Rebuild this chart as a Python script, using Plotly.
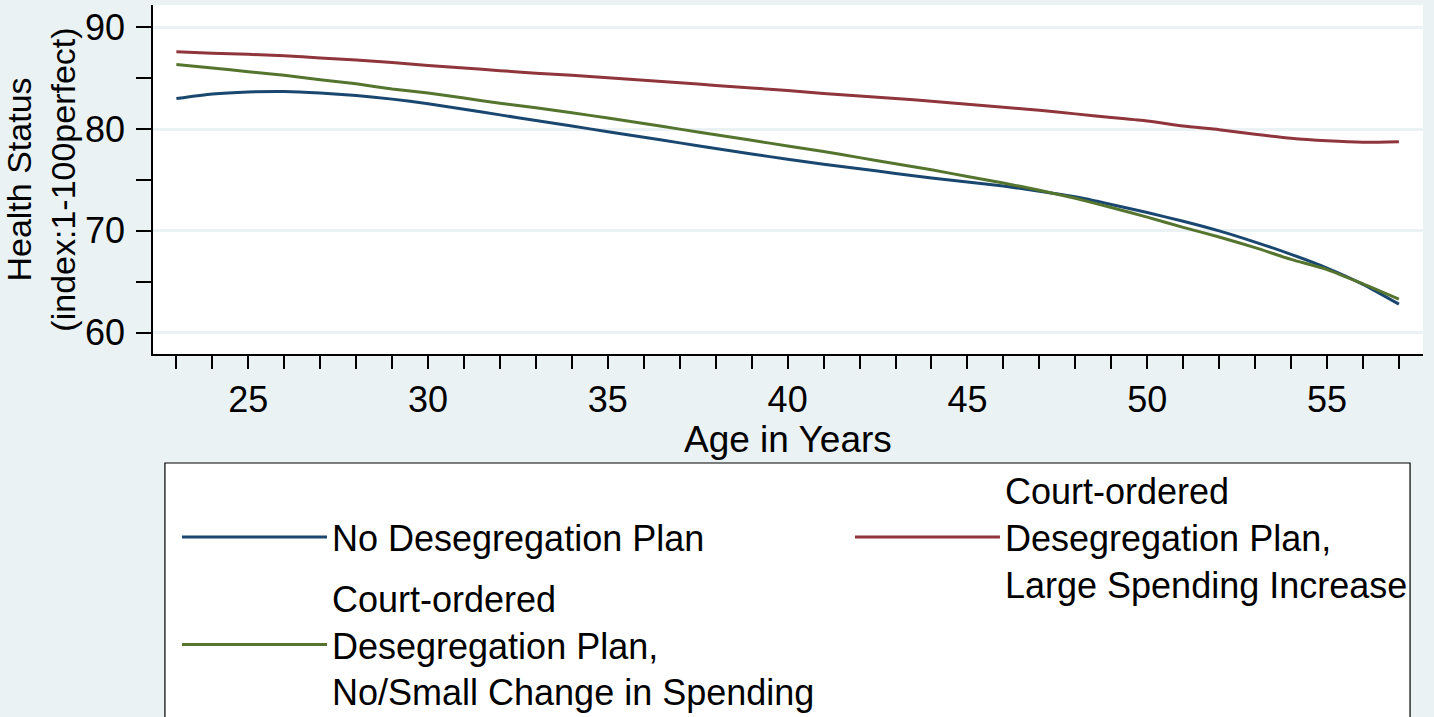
import plotly.graph_objects as go

ages = list(range(23, 58))

no_plan = [83.0, 83.45, 83.65, 83.7, 83.55, 83.3, 82.95, 82.5, 81.95, 81.4,
           80.85, 80.3, 79.75, 79.2, 78.65, 78.1, 77.55, 77.05, 76.55, 76.1,
           75.65, 75.2, 74.8, 74.4, 73.9, 73.35, 72.6, 71.8, 70.95, 70.0,
           68.9, 67.7, 66.35, 64.75, 62.8]

large_increase = [87.6, 87.45, 87.35, 87.2, 87.0, 86.8, 86.55, 86.25, 86.0, 85.75,
                  85.5, 85.3, 85.05, 84.8, 84.55, 84.3, 84.05, 83.8, 83.5, 83.25,
                  83.0, 82.75, 82.45, 82.15, 81.85, 81.5, 81.15, 80.8, 80.3, 79.95,
                  79.5, 79.1, 78.85, 78.7, 78.75]

small_change = [86.35, 86.0, 85.65, 85.3, 84.85, 84.45, 83.95, 83.55, 83.05, 82.55,
                82.1, 81.6, 81.1, 80.55, 80.0, 79.45, 78.9, 78.35, 77.8, 77.2,
                76.6, 76.0, 75.35, 74.7, 74.0, 73.2, 72.3, 71.35, 70.35, 69.4,
                68.35, 67.2, 66.2, 64.8, 63.3]

series_names = [
    "No Desegregation Plan",
    "Court-ordered<br>Desegregation Plan,<br>Large Spending Increase",
    "Court-ordered<br>Desegregation Plan,<br>No/Small Change in Spending",
]
series_colors = ["#1A476F", "#90353B", "#55752F"]
series_legends = ["legend", "legend2", "legend"]
series_groups = ["g1", "g2", "g3"]

x_major = [25, 30, 35, 40, 45, 50, 55]
y_major = [60, 70, 80, 90]
y_minor = [65, 75, 85]

x_title = "Age in Years"
y_title = "Health Status<br>(index:1-100perfect)"

FONT = "Liberation Sans, Arial, sans-serif"
BG = "#EAF2F3"
LEG_FONT = 36

fig = go.Figure()
for name, vals, col, leg, grp in zip(series_names,
                                     [no_plan, large_increase, small_change],
                                     series_colors, series_legends, series_groups):
    fig.add_trace(go.Scatter(x=ages, y=vals, mode="lines", name=name,
                             legend=leg, legendgroup=grp,
                             line=dict(color=col, width=3, shape="spline", smoothing=0.6)))

legend_common = dict(
    orientation="v", xanchor="left", yanchor="top",
    bgcolor="rgba(0,0,0,0)", borderwidth=0,
    font=dict(family=FONT, size=LEG_FONT, color="black"),
    itemwidth=145, traceorder="grouped", tracegroupgap=11,
)

fig.update_layout(
    width=1434, height=717,
    margin=dict(l=153, r=11, t=5, b=363, autoexpand=False),
    paper_bgcolor=BG, plot_bgcolor="white",
    font=dict(family=FONT, color="black", size=36),
    showlegend=True,
    legend=dict(x=0.0189, y=-0.4384, **legend_common),
    legend2=dict(x=0.5488, y=-0.3046, **legend_common),
    shapes=[dict(type="rect", xref="paper", yref="paper",
                 x0=0.0094, x1=0.9898, y0=-1.08, y1=-0.3123,
                 fillcolor="white", line=dict(color="black", width=1.2),
                 layer="below")],
    annotations=[dict(text=x_title, xref="paper", yref="paper", x=0.5, y=-0.2464,
                      xanchor="center", yanchor="middle", showarrow=False,
                      font=dict(family=FONT, size=37, color="black"))],
)

fig.update_xaxes(
    range=[22.35, 57.67], tickmode="array", tickvals=x_major,
    ticks="outside", ticklen=13, tickwidth=1.5, tickcolor="black",
    showline=True, linecolor="black", linewidth=1.5, showgrid=False, zeroline=False,
    tickfont=dict(size=36), automargin=False,
    minor=dict(tickmode="array", tickvals=ages, ticks="outside", ticklen=13,
               tickwidth=1.5, tickcolor="black", showgrid=False),
)
fig.update_yaxes(
    range=[57.9, 92.2], tickmode="array", tickvals=y_major,
    ticks="outside", ticklen=15, tickwidth=1.5, tickcolor="black",
    showline=True, linecolor="black", linewidth=1.5,
    showgrid=True, gridcolor=BG, gridwidth=3, zeroline=False,
    tickfont=dict(size=36), ticklabelstandoff=4, automargin=False,
    minor=dict(tickmode="array", tickvals=y_minor, ticks="outside", ticklen=15,
               tickwidth=1.5, tickcolor="black", showgrid=False),
    title=dict(text=y_title, font=dict(size=34), standoff=2),
)

fig.write_html("out.html")
